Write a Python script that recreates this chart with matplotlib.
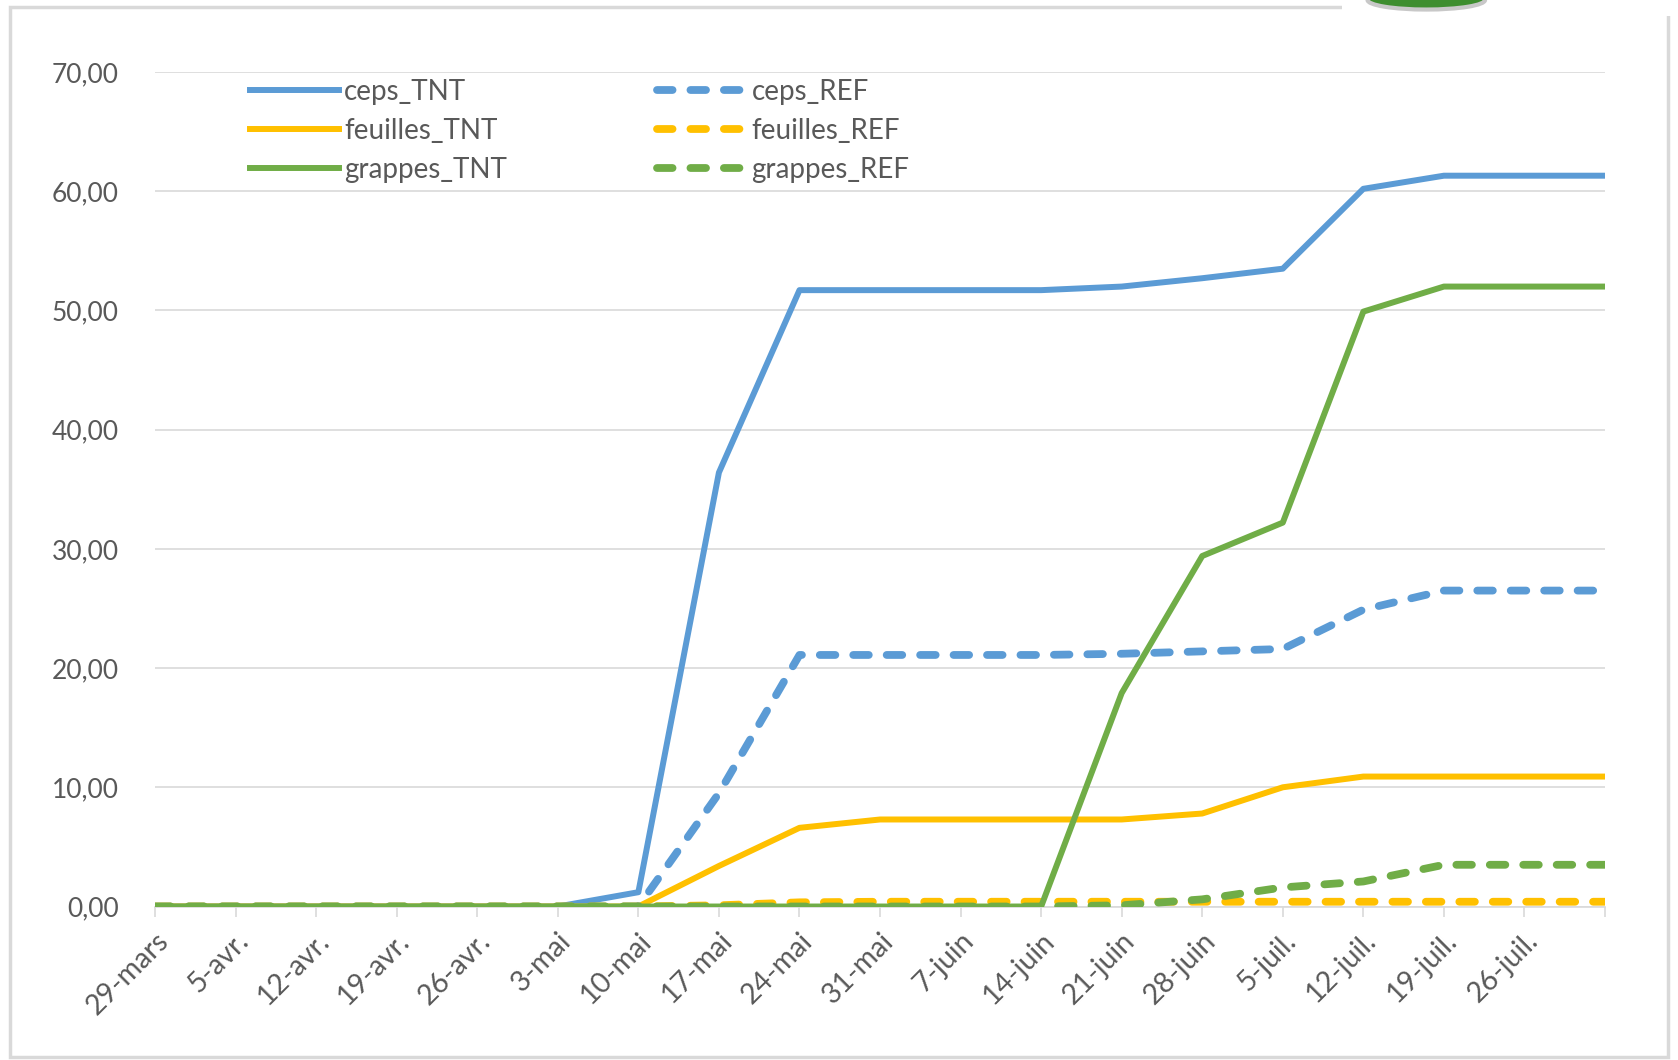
import matplotlib.pyplot as plt
from matplotlib.patches import Rectangle, Ellipse
from matplotlib.transforms import ScaledTranslation

plt.rcParams['font.family'] = ['Lato', 'DejaVu Sans']

# weekly dates (last point 2-août has no label on the axis)
dates = ["29-mars", "5-avr.", "12-avr.", "19-avr.", "26-avr.", "3-mai", "10-mai",
         "17-mai", "24-mai", "31-mai", "7-juin", "14-juin", "21-juin", "28-juin",
         "5-juil.", "12-juil.", "19-juil.", "26-juil.", ""]

ceps_TNT = [0, 0, 0, 0, 0, 0, 1.2, 36.4, 51.7, 51.7, 51.7, 51.7, 52.0, 52.7,
            53.5, 60.2, 61.3, 61.3, 61.3]
ceps_REF = [0, 0, 0, 0, 0, 0, 0, 9.5, 21.1, 21.1, 21.1, 21.1, 21.2, 21.4,
            21.6, 24.9, 26.5, 26.5, 26.5]
feuilles_TNT = [0, 0, 0, 0, 0, 0, 0, 3.4, 6.6, 7.3, 7.3, 7.3, 7.3, 7.8,
                10.0, 10.9, 10.9, 10.9, 10.9]
feuilles_REF = [0, 0, 0, 0, 0, 0, 0, 0.1, 0.35, 0.4, 0.4, 0.4, 0.4, 0.4,
                0.4, 0.4, 0.4, 0.4, 0.4]
grappes_TNT = [0, 0, 0, 0, 0, 0, 0, 0, 0, 0, 0, 0, 17.9, 29.4,
               32.2, 49.9, 52.0, 52.0, 52.0]
grappes_REF = [0, 0, 0, 0, 0, 0, 0, 0, 0, 0, 0, 0, 0.1, 0.6,
               1.6, 2.1, 3.5, 3.5, 3.5]

blue = "#5B9BD5"
yellow = "#FFC000"
green = "#70AD47"
txt = "#595959"

fig = plt.figure(figsize=(16.78, 10.60), dpi=100)
ax = fig.add_axes([0.0924, 0.1448, 0.8641, 0.7873])

x = list(range(len(dates)))
lw = 4.3
dash = dict(linestyle=(0, (2.0, 2.3)), dash_capstyle='round', lw=5.6)

l1, = ax.plot(x, ceps_TNT, color=blue, lw=lw, zorder=3, label="ceps_TNT")
l2, = ax.plot(x, feuilles_TNT, color=yellow, lw=lw, zorder=3, label="feuilles_TNT")
l4, = ax.plot(x, ceps_REF, color=blue, zorder=3, label="ceps_REF", **dash)
l5, = ax.plot(x, feuilles_REF, color=yellow, zorder=3, label="feuilles_REF", **dash)
l6, = ax.plot(x, grappes_REF, color=green, zorder=4, label="grappes_REF", **dash)
l3, = ax.plot(x, grappes_TNT, color=green, lw=lw, zorder=4, label="grappes_TNT")

ax.set_xlim(0, 18)
ax.set_ylim(0, 70)
ax.set_yticks(range(0, 71, 10))
ax.set_yticklabels([f"{v},00" for v in range(0, 71, 10)])
ax.set_xticks(x)
ax.set_xticklabels(dates, rotation=45, ha='right', va='top', rotation_mode='anchor')
shift = ScaledTranslation(12 / 100, 4 / 100, fig.dpi_scale_trans)
for lab in ax.get_xticklabels():
    lab.set_transform(lab.get_transform() + shift)

ax.grid(axis='y', color="#D9D9D9", lw=1.2)
ax.set_axisbelow(True)
for s in ['left', 'right', 'top']:
    ax.spines[s].set_visible(False)
ax.spines['bottom'].set_color("#D9D9D9")
ax.spines['bottom'].set_linewidth(1.2)
ax.tick_params(axis='y', length=0, pad=26, labelsize=19, labelcolor=txt)
ax.tick_params(axis='x', length=7, color="#D9D9D9", width=1.2, pad=8,
               labelsize=20.5, labelcolor=txt)

leg = ax.legend(handles=[l1, l2, l3, l4, l5, l6], ncol=2, loc='upper left',
                bbox_to_anchor=(0.048, 1.022), frameon=False, fontsize=20,
                handlelength=3.2, handletextpad=0.2, columnspacing=5.4,
                labelspacing=0.47, labelcolor=txt)

# chart border
fig.patches.append(Rectangle((0.006, 0.003), 0.988, 0.99, transform=fig.transFigure,
                             fill=False, edgecolor="#D9D9D9", lw=2.5))
# bit of picture overlapping the top right corner
fig.patches.append(Rectangle((0.8, 0.985), 0.21, 0.02, transform=fig.transFigure,
                             facecolor="white", edgecolor="none"))
fig.patches.append(Ellipse((0.85, 1.0), 0.07, 0.018, transform=fig.transFigure,
                           facecolor="#3E8E2F", edgecolor="#C8C8C8", lw=3))

fig.savefig("out.png", dpi=100)
